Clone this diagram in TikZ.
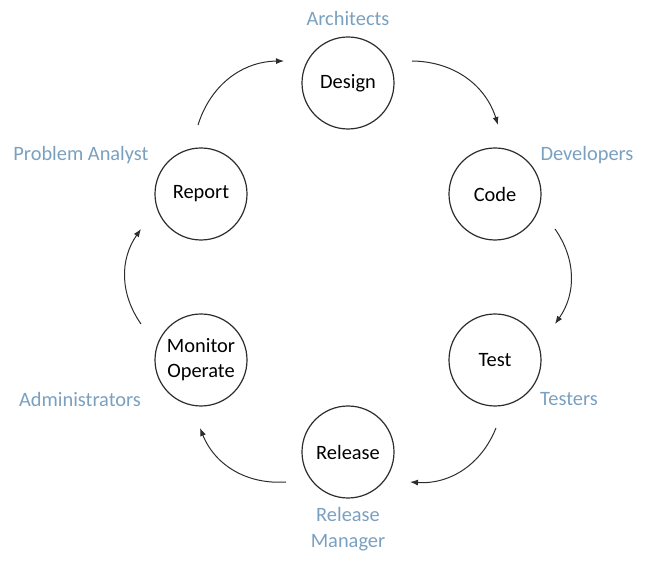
\documentclass[tikz,border=0pt]{standalone}
\usepackage{fontspec}
\setmainfont{Carlito}
\usetikzlibrary{arrows.meta}
\definecolor{rolecol}{RGB}{122,160,192}
\definecolor{linecol}{RGB}{45,45,45}
\begin{document}
\begin{tikzpicture}[x=0.75pt,y=0.75pt,
  phase/.style={circle,draw=linecol,line width=0.9pt,minimum size=69pt,inner sep=0pt,
    align=center,font=\fontsize{15.3}{18.75}\selectfont,text=black},
  role/.style={text=rolecol,align=center,font=\fontsize{15.3}{19.5}\selectfont,inner sep=0pt},
  flow/.style={draw=linecol,line width=0.75pt,-{Latex[length=6pt,width=4.5pt]}}]
\useasboundingbox (0,0) rectangle (646,564);
% phases
\node[phase] (design)  at (348,481) {Design};
\node[phase] (code)    at (495,370) {Code};
\node[phase] (test)    at (495,204) {Test};
\node[phase] (release) at (348,112) {Release};
\node[phase] (monitor) at (201,204) {Monitor\\Operate};
\node[phase] (report)  at (201,370) {Report};
% roles
\node[role] (r1) at (348,546) {Architects};
\node[role] (r2) at (587,409) {Developers};
\node[role] (r3) at (569,165) {Testers};
\node[role] (r4) at (348,35) {Release\\Manager};
\node[role] (r5) at (80,165) {Administrators};
\node[role] (r6) at (81,409) {Problem Analyst};
% arrow ends
\coordinate (a1s) at (412,503); \coordinate (a1e) at (498,439);
\coordinate (a2s) at (555,335); \coordinate (a2e) at (555,240);
\coordinate (a3s) at (496,136); \coordinate (a3e) at (410,82);
\coordinate (a4s) at (286,82);  \coordinate (a4e) at (200,136);
\coordinate (a5s) at (141,240); \coordinate (a5e) at (141,335);
\coordinate (a6s) at (198,439); \coordinate (a6e) at (284,503);
\draw[flow] (a1s) to[bend left=36] (a1e);
\draw[flow] (a2s) to[bend left=35] (a2e);
\draw[flow] (a3s) to[bend left=36] (a3e);
\draw[flow] (a4s) to[bend left=36] (a4e);
\draw[flow] (a5s) to[bend left=35] (a5e);
\draw[flow] (a6s) to[bend left=36] (a6e);
\end{tikzpicture}
\end{document}
